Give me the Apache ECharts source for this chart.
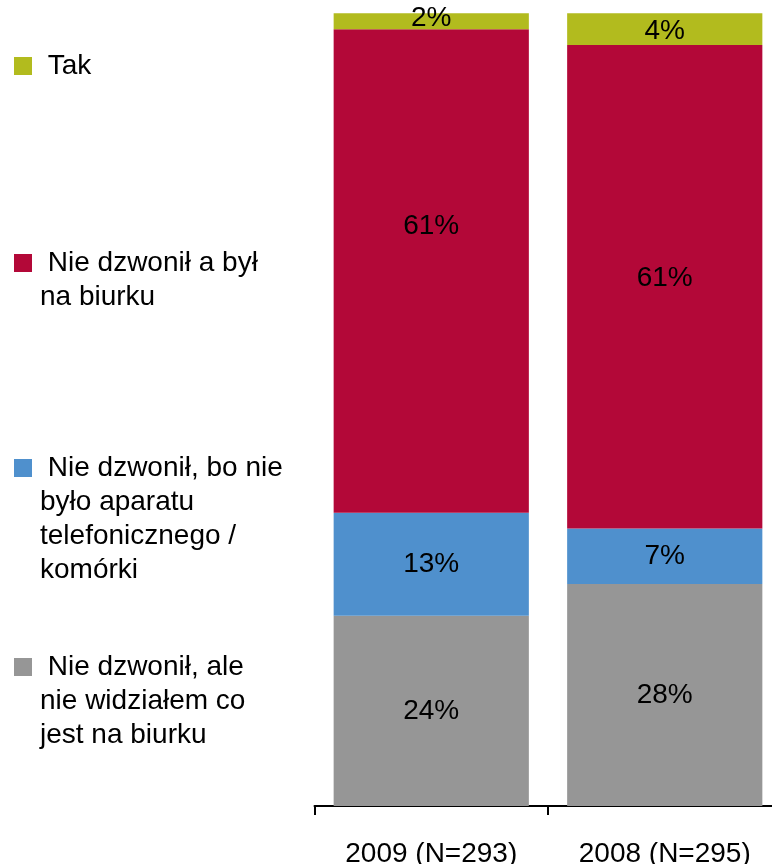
<!DOCTYPE html>
<html>
<head>
<meta charset="utf-8">
<title>Czy dzwonił</title>
<script src="https://cdn.jsdelivr.net/npm/echarts@6/dist/echarts.min.js"></script>
<style>
  html, body { margin: 0; padding: 0; background: #ffffff; }
  #chart { width: 772px; height: 864px; }
</style>
</head>
<body>
<div id="chart"></div>
<script>
// Survey groups (x axis)
const categories = ['2009 (N=293)', '2008 (N=295)'];

// Answer shares in percent, stacked bottom to top
const seriesNames = [
  'Nie dzwonił, ale nie widziałem co jest na biurku',
  'Nie dzwonił, bo nie było aparatu telefonicznego / komórki',
  'Nie dzwonił a był na biurku',
  'Tak'
];
const shareNoSaw   = [24, 28];
const shareNoPhone = [13, 7];
const shareOnDesk  = [61, 61];
const shareYes     = [2, 4];

// Legend captions as wrapped lines
const legendLines = {
  'Tak': ['Tak'],
  'Nie dzwonił a był na biurku': ['Nie dzwonił a był', 'na biurku'],
  'Nie dzwonił, bo nie było aparatu telefonicznego / komórki':
    ['Nie dzwonił, bo nie', 'było aparatu', 'telefonicznego /', 'komórki'],
  'Nie dzwonił, ale nie widziałem co jest na biurku':
    ['Nie dzwonił, ale', 'nie widziałem co', 'jest na biurku']
};

const colors = ['#969696', '#4F90CD', '#B30838', '#B2BB1E'];
const FONT = "'Liberation Sans', Arial, sans-serif";
const LINE = 34;

const values = [shareNoSaw, shareNoPhone, shareOnDesk, shareYes];
// vertical nudges of the value labels per series / bar
const labelShift = [[0, 0], [0, 0], [-45, -9], [-3, 2]];

const series = seriesNames.map((name, i) => ({
  name,
  type: 'bar',
  stack: 'total',
  barCategoryGap: '16.4%',
  itemStyle: { color: colors[i] },
  label: {
    show: true,
    position: 'inside',
    color: '#000',
    fontFamily: FONT,
    fontSize: 28,
    formatter: '{c}%'
  },
  data: values[i].map((v, j) => ({
    value: v,
    label: { offset: [0, labelShift[i][j]] }
  }))
}));

// one legend block per answer; blank lines above the caption keep the
// icon level with the caption's first line
const legendIconTops = { 'Tak': 57, 'Nie dzwonił a był na biurku': 254,
  'Nie dzwonił, bo nie było aparatu telefonicznego / komórki': 459,
  'Nie dzwonił, ale nie widziałem co jest na biurku': 658 };

const legends = Object.keys(legendLines).map(name => {
  const n = legendLines[name].length;
  const blank = '\u00a0\n'.repeat(n - 1);
  return {
    data: [name],
    orient: 'vertical',
    left: 14,
    top: legendIconTops[name] + 9 - (2 * n - 1) * LINE / 2,
    padding: 0,
    itemWidth: 18,
    itemHeight: 18,
    icon: 'rect',
    selectedMode: false,
    formatter: () => blank + ' ' + legendLines[name].join('\n'),
    textStyle: {
      fontFamily: FONT,
      fontSize: 28,
      color: '#000',
      lineHeight: LINE,
      padding: [0, 0, 0, 3]
    }
  };
});

const chart = echarts.init(document.getElementById('chart'), null, { renderer: 'canvas' });
chart.setOption({
  animation: false,
  backgroundColor: '#ffffff',
  legend: legends,
  grid: {
    left: 314.5, top: 13.3, width: 467, bottom: 58,
    containLabel: false, outerBoundsMode: 'none'
  },
  xAxis: {
    type: 'category',
    data: categories,
    axisLine: { show: true, lineStyle: { color: '#000', width: 2 } },
    axisTick: { show: true, length: 9, lineStyle: { color: '#000', width: 2 } },
    axisLabel: { color: '#000', fontFamily: FONT, fontSize: 28, margin: 34 }
  },
  yAxis: {
    type: 'value',
    min: 0,
    max: 100,
    show: false,
    splitLine: { show: false }
  },
  series
});
</script>
</body>
</html>
